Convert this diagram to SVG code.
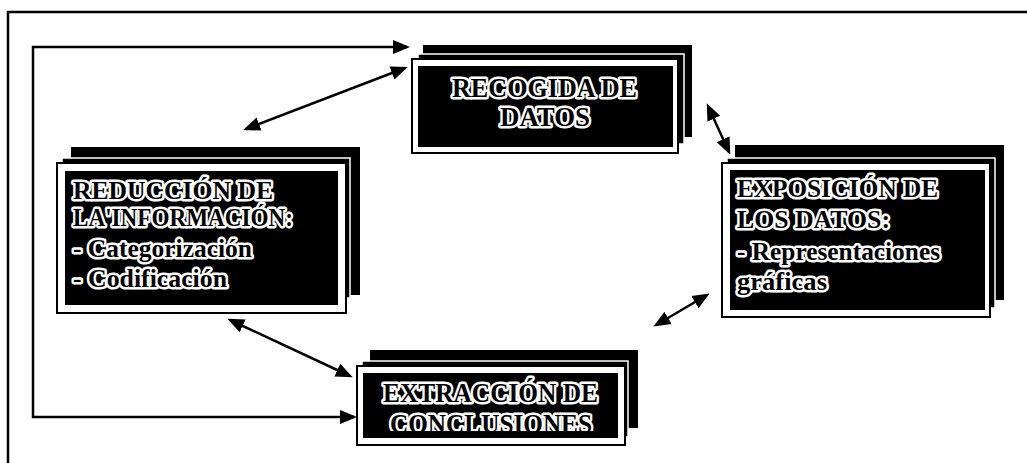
<svg xmlns="http://www.w3.org/2000/svg" width="1027" height="463" viewBox="0 0 1027 463">
<style>
.back{fill:#000}
.mid{fill:#000;stroke:#fff;stroke-width:1.5}
.front{fill:#fff;stroke:#000;stroke-width:2}
.inner{fill:#000}
.t{font-family:"Liberation Serif","Times New Roman",serif;font-weight:bold;fill:#000;stroke:#fff;stroke-width:5;stroke-linejoin:round;paint-order:stroke}
.conn{fill:none;stroke:#000;stroke-width:2.5}
</style>
<defs>
<marker id="ah" markerUnits="userSpaceOnUse" markerWidth="18" markerHeight="16" refX="14" refY="7" orient="auto-start-reverse" viewBox="0 0 18 14">
<path d="M0,0 L17,7 L0,14 z" fill="#000"/>
</marker>
<clipPath id="clipExt"><rect x="355" y="340" width="280" height="91"/></clipPath>
</defs>
<rect width="1027" height="463" fill="#fff"/>
<path d="M8,463 V12 H1027" fill="none" stroke="#000" stroke-width="2.5"/>

<g id="connectors">
<path class="conn" d="M407,47 H33 V417 H354" marker-start="url(#ah)" marker-end="url(#ah)"/>
<line class="conn" x1="405" y1="68" x2="246" y2="129" marker-start="url(#ah)" marker-end="url(#ah)"/>
<line class="conn" x1="708" y1="106" x2="729" y2="152" marker-start="url(#ah)" marker-end="url(#ah)"/>
<line class="conn" x1="707" y1="295" x2="656" y2="325" marker-start="url(#ah)" marker-end="url(#ah)"/>
<line class="conn" x1="230" y1="320" x2="350" y2="376" marker-start="url(#ah)" marker-end="url(#ah)"/>
</g>

<g id="recogida">
<rect class="back" x="423" y="45" width="269" height="92"/>
<rect class="mid" x="418" y="54" width="266" height="90"/>
<rect class="front" x="412" y="59" width="266" height="94"/>
<rect class="inner" x="418" y="66" width="255" height="81"/>
<text class="t" font-size="28" x="452" y="97" textLength="185" lengthAdjust="spacingAndGlyphs">RECOGIDA DE</text>
<text class="t" font-size="28" x="500" y="126" textLength="90" lengthAdjust="spacingAndGlyphs">DATOS</text>
</g>

<g id="reduccion">
<rect class="back" x="71" y="147" width="289" height="148"/>
<rect class="mid" x="62" y="158" width="288" height="140"/>
<rect class="front" x="57" y="163" width="289" height="150"/>
<rect class="inner" x="65" y="171" width="273" height="134"/>
<text class="t" font-size="26" x="73" y="199" textLength="200" lengthAdjust="spacingAndGlyphs">REDUCCIÓN DE</text>
<text class="t" font-size="26" x="73" y="226" textLength="220" lengthAdjust="spacingAndGlyphs">LA'INFORMACIÓN:</text>
<text class="t" font-size="26" x="73" y="257" textLength="179" lengthAdjust="spacingAndGlyphs">- Categorización</text>
<text class="t" font-size="26" x="73" y="287" textLength="154" lengthAdjust="spacingAndGlyphs">- Codificación</text>
</g>

<g id="exposicion">
<rect class="back" x="735" y="145" width="269" height="155"/>
<rect class="mid" x="727" y="158" width="268" height="150"/>
<rect class="front" x="722" y="163" width="268" height="154"/>
<rect class="inner" x="730" y="170" width="255" height="140"/>
<text class="t" font-size="26" x="737" y="197" textLength="201" lengthAdjust="spacingAndGlyphs">EXPOSICIÓN DE</text>
<text class="t" font-size="26" x="737" y="228" textLength="153" lengthAdjust="spacingAndGlyphs">LOS DATOS:</text>
<text class="t" font-size="26" x="737" y="260" textLength="203" lengthAdjust="spacingAndGlyphs">- Representaciones</text>
<text class="t" font-size="26" x="737" y="290" textLength="90" lengthAdjust="spacingAndGlyphs">gráficas</text>
</g>

<g id="extraccion">
<rect class="back" x="370" y="350" width="268" height="78"/>
<rect class="mid" x="362" y="361" width="266" height="76"/>
<rect class="front" x="357" y="366" width="268" height="79"/>
<rect class="inner" x="363" y="373" width="255" height="65"/>
<text class="t" font-size="27" x="383" y="402" textLength="215" lengthAdjust="spacingAndGlyphs">EXTRACCIÓN DE</text>
<text class="t" font-size="27" x="390" y="433" textLength="202" lengthAdjust="spacingAndGlyphs" clip-path="url(#clipExt)">CONCLUSIONES</text>
</g>
</svg>
